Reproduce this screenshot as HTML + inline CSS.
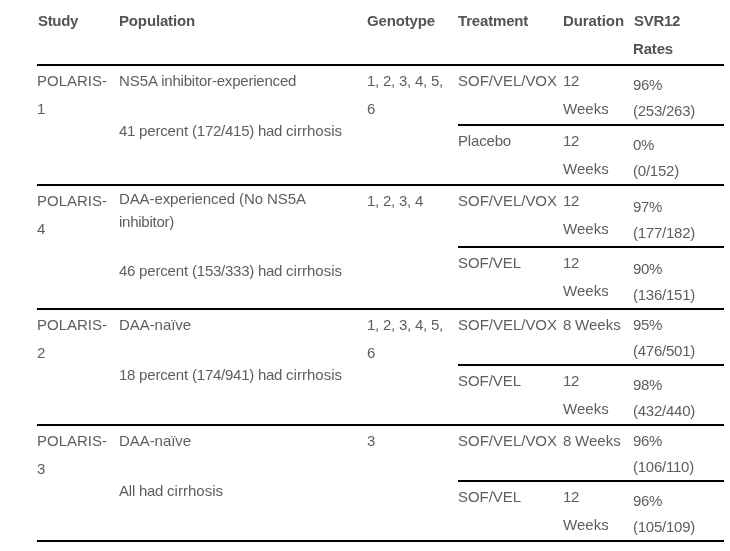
<!DOCTYPE html>
<html><head><meta charset="utf-8">
<style>
html,body{margin:0;padding:0;background:#fff;}
body{width:730px;height:551px;overflow:hidden;position:relative;font-family:"Liberation Sans",Arial,sans-serif;font-size:15px;line-height:28px;color:#5e5e5e;}
table{position:absolute;left:37px;top:0;width:687px;border-collapse:collapse;table-layout:fixed;}
td,th{padding:1px 0 0 0;vertical-align:top;text-align:left;font-weight:normal;white-space:nowrap;}
th{font-weight:bold;color:#545454;padding-top:7px;padding-bottom:1px;}
tbody td{border-top:2px solid #000;}
tbody{border-bottom:2px solid #000;}
p{margin:0;}
td p.s{height:0;overflow:visible;line-height:26px;position:relative;top:5px;white-space:nowrap;}
td p.s.t0{top:1px;}
td p.s.t7{top:7px;}
.gap{height:22px;}
td.lh24{line-height:23.25px;}
td.lh24 .gap{height:25.5px;}
</style></head><body>
<table>
<colgroup><col style="width:82px"><col style="width:248px"><col style="width:91px"><col style="width:105px"><col style="width:70px"><col style="width:91px"></colgroup>
<thead><tr><th><span style="letter-spacing:-0.33px;padding-left:1px">Study</span></th><th><span style="letter-spacing:-0.149px">Population</span></th><th><span style="letter-spacing:-0.147px">Genotype</span></th><th><span style="letter-spacing:-0.169px">Treatment</span></th><th><span style="letter-spacing:-0.083px">Duration</span></th><th><span style="letter-spacing:-0.305px;padding-left:1px">SVR12</span><br><span style="letter-spacing:-0.171px">Rates</span></th></tr></thead>
<tbody>
<tr style="height:60px"><td rowspan="2">POLARIS-<br><span style="letter-spacing:-0.342px">1</span></td><td rowspan="2"><span style="letter-spacing:-0.070px">NS5A </span><span style="letter-spacing:-0.202px">inhibitor-experienced</span><div class="gap"></div><span style="letter-spacing:-0.284px">41 </span><span style="letter-spacing:-0.150px">percent </span><span style="letter-spacing:-0.238px">(172/415) </span><span style="letter-spacing:-0.299px">had </span><span style="letter-spacing:0.018px">cirrhosis</span></td><td rowspan="2"><span style="letter-spacing:-0.226px">1, </span><span style="letter-spacing:-0.226px">2, </span><span style="letter-spacing:-0.226px">3, </span><span style="letter-spacing:-0.226px">4, </span><span style="letter-spacing:-0.255px">5,</span><br><span style="letter-spacing:-0.342px">6</span></td><td><span style="letter-spacing:-0.018px">SOF/VEL/VOX</span></td><td><span style="letter-spacing:-0.342px">12</span><br><span style="letter-spacing:0.032px">Weeks</span></td><td><p class="s"><span style="letter-spacing:-0.341px">96%</span><br><span style="letter-spacing:-0.246px">(253/263)</span></p></td></tr>
<tr style="height:60px"><td><span style="letter-spacing:-0.172px">Placebo</span></td><td><span style="letter-spacing:-0.342px">12</span><br><span style="letter-spacing:0.032px">Weeks</span></td><td><p class="s"><span style="letter-spacing:-0.340px">0%</span><br><span style="letter-spacing:-0.218px">(0/152)</span></p></td></tr>
<tr style="height:62px"><td rowspan="2">POLARIS-<br><span style="letter-spacing:-0.342px">4</span></td><td rowspan="2" class="lh24"><span style="letter-spacing:-0.108px">DAA-experienced </span><span style="letter-spacing:-0.084px">(No </span><span style="letter-spacing:-0.046px">NS5A</span><br><span style="letter-spacing:-0.252px">inhibitor)</span><div class="gap"></div><span style="letter-spacing:-0.284px">46 </span><span style="letter-spacing:-0.150px">percent </span><span style="letter-spacing:-0.238px">(153/333) </span><span style="letter-spacing:-0.299px">had </span><span style="letter-spacing:0.018px">cirrhosis</span></td><td rowspan="2"><span style="letter-spacing:-0.226px">1, </span><span style="letter-spacing:-0.226px">2, </span><span style="letter-spacing:-0.226px">3, </span><span style="letter-spacing:-0.342px">4</span></td><td><span style="letter-spacing:-0.018px">SOF/VEL/VOX</span></td><td><span style="letter-spacing:-0.342px">12</span><br><span style="letter-spacing:0.032px">Weeks</span></td><td><p class="s t7"><span style="letter-spacing:-0.341px">97%</span><br><span style="letter-spacing:-0.246px">(177/182)</span></p></td></tr>
<tr style="height:62px"><td><span style="letter-spacing:-0.051px">SOF/VEL</span></td><td><span style="letter-spacing:-0.342px">12</span><br><span style="letter-spacing:0.032px">Weeks</span></td><td><p class="s t7"><span style="letter-spacing:-0.341px">90%</span><br><span style="letter-spacing:-0.246px">(136/151)</span></p></td></tr>
<tr style="height:56px"><td rowspan="2">POLARIS-<br><span style="letter-spacing:-0.342px">2</span></td><td rowspan="2"><span style="letter-spacing:-0.059px">DAA-naïve</span><div class="gap"></div><span style="letter-spacing:-0.284px">18 </span><span style="letter-spacing:-0.150px">percent </span><span style="letter-spacing:-0.238px">(174/941) </span><span style="letter-spacing:-0.299px">had </span><span style="letter-spacing:0.018px">cirrhosis</span></td><td rowspan="2"><span style="letter-spacing:-0.226px">1, </span><span style="letter-spacing:-0.226px">2, </span><span style="letter-spacing:-0.226px">3, </span><span style="letter-spacing:-0.226px">4, </span><span style="letter-spacing:-0.255px">5,</span><br><span style="letter-spacing:-0.342px">6</span></td><td><span style="letter-spacing:-0.018px">SOF/VEL/VOX</span></td><td><span style="letter-spacing:-0.255px">8 </span><span style="letter-spacing:0.032px">Weeks</span></td><td><p class="s t0"><span style="letter-spacing:-0.341px">95%</span><br><span style="letter-spacing:-0.246px">(476/501)</span></p></td></tr>
<tr style="height:60px"><td><span style="letter-spacing:-0.051px">SOF/VEL</span></td><td><span style="letter-spacing:-0.342px">12</span><br><span style="letter-spacing:0.032px">Weeks</span></td><td><p class="s"><span style="letter-spacing:-0.341px">98%</span><br><span style="letter-spacing:-0.246px">(432/440)</span></p></td></tr>
<tr style="height:56px"><td rowspan="2">POLARIS-<br><span style="letter-spacing:-0.342px">3</span></td><td rowspan="2"><span style="letter-spacing:-0.059px">DAA-naïve</span><div class="gap"></div><span style="letter-spacing:-0.209px">All </span><span style="letter-spacing:-0.299px">had </span><span style="letter-spacing:0.018px">cirrhosis</span></td><td rowspan="2"><span style="letter-spacing:-0.342px">3</span></td><td><span style="letter-spacing:-0.018px">SOF/VEL/VOX</span></td><td><span style="letter-spacing:-0.255px">8 </span><span style="letter-spacing:0.032px">Weeks</span></td><td><p class="s t0"><span style="letter-spacing:-0.341px">96%</span><br><span style="letter-spacing:-0.246px">(106/110)</span></p></td></tr>
<tr style="height:60px"><td><span style="letter-spacing:-0.051px">SOF/VEL</span></td><td><span style="letter-spacing:-0.342px">12</span><br><span style="letter-spacing:0.032px">Weeks</span></td><td><p class="s"><span style="letter-spacing:-0.341px">96%</span><br><span style="letter-spacing:-0.246px">(105/109)</span></p></td></tr>
</tbody></table>
</body></html>
